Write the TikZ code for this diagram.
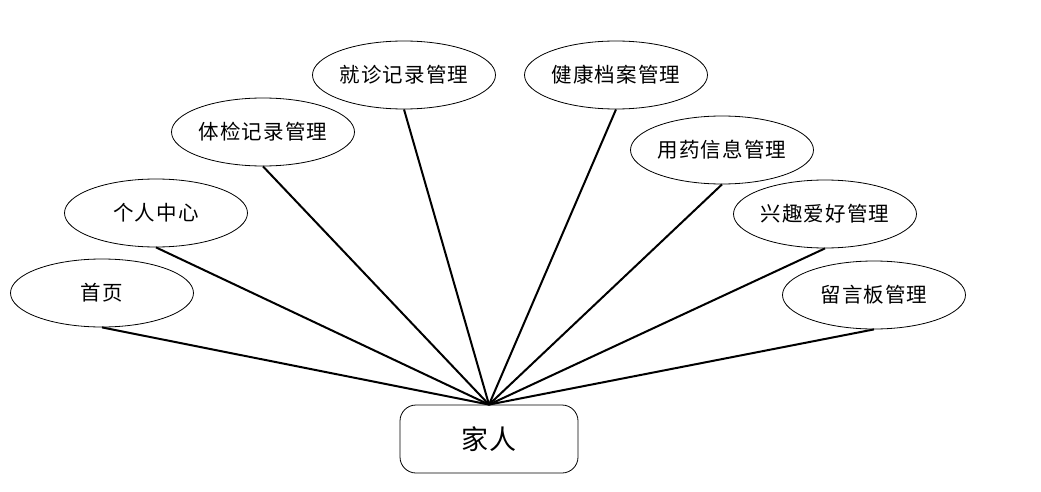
\documentclass[tikz,border=0pt]{standalone}
\usepackage{fontspec}
\setmainfont{Noto Sans CJK SC}[LetterSpace=5]
\usetikzlibrary{shapes.geometric}
\begin{document}
\begin{tikzpicture}[x=1pt,y=-1pt,
  oval/.style={ellipse,draw,line width=0.8pt,minimum width=183pt,minimum height=68pt,inner sep=0pt,font=\fontsize{20.5}{20.5}\selectfont},
  conn/.style={line width=2pt},
  actor/.style={rectangle,rounded corners=16pt,draw,line width=0.8pt,minimum width=178pt,minimum height=68pt,font=\fontsize{27}{27}\selectfont}]
\useasboundingbox (0,0) rectangle (1041,492);
\node[actor] (jr) at (489,439) {家人};
\node[oval] (a1) at (102,293) {首页};
\node[oval] (a2) at (156,213) {个人中心};
\node[oval] (a3) at (263,132) {体检记录管理};
\node[oval] (a4) at (404,75) {就诊记录管理};
\node[oval] (a5) at (616,75) {健康档案管理};
\node[oval] (a6) at (722,150) {用药信息管理};
\node[oval] (a7) at (825,214) {兴趣爱好管理};
\node[oval] (a8) at (874,295) {留言板管理};
\foreach \n in {a1,a2,a3,a4,a5,a6,a7,a8}
  \draw[conn] (\n.south) -- (jr.north);
\end{tikzpicture}
\end{document}
